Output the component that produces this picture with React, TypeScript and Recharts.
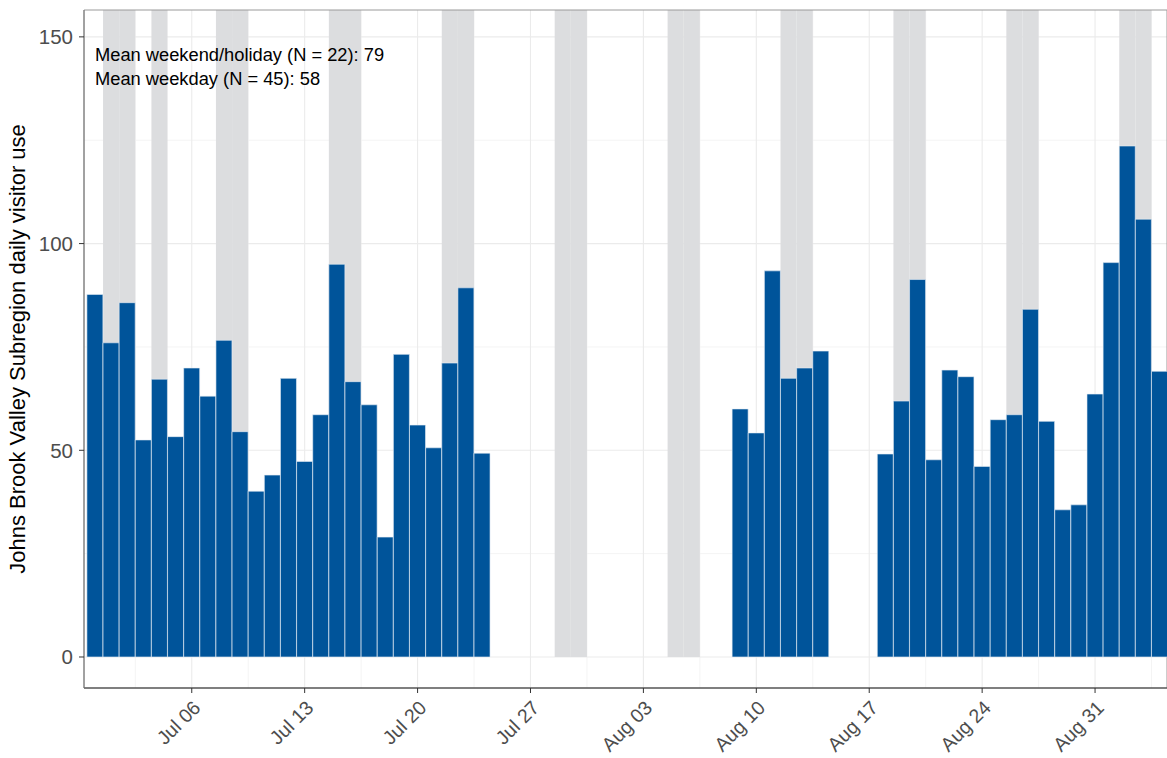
import React from 'react';
import {
  Bar,
  BarChart,
  CartesianGrid,
  Label,
  ReferenceArea,
  XAxis,
  YAxis,
} from 'recharts';

const YEAR = 2023;
const FIRST_DAY = '06-30';

// Days with a count (month-day) and the count for each one
const visitDates = [
  '06-30', '07-01', '07-02', '07-03', '07-04', '07-05', '07-06', '07-07',
  '07-08', '07-09', '07-10', '07-11', '07-12', '07-13', '07-14', '07-15',
  '07-16', '07-17', '07-18', '07-19', '07-20', '07-21', '07-22', '07-23',
  '07-24',
  '08-09', '08-10', '08-11', '08-12', '08-13', '08-14',
  '08-18', '08-19', '08-20', '08-21', '08-22', '08-23', '08-24', '08-25',
  '08-26', '08-27', '08-28', '08-29', '08-30', '08-31', '09-01', '09-02',
  '09-03', '09-04',
];

const visitorUse = [
  87.7, 76.0, 85.7, 52.5, 67.2, 53.3, 69.9, 63.1,
  76.6, 54.5, 40.1, 44.0, 67.4, 47.3, 58.6, 95.0,
  66.6, 61.0, 29.0, 73.2, 56.1, 50.6, 71.1, 89.3,
  49.3,
  60.0, 54.2, 93.4, 67.4, 69.9, 74.0,
  49.1, 61.9, 91.3, 47.7, 69.4, 67.8, 46.1, 57.4,
  58.6, 84.1, 57.0, 35.6, 36.8, 63.6, 95.4, 123.6,
  105.9, 69.1,
];

// Weekends and holidays, shaded behind the bars
const weekendHolidays = [
  '07-01', '07-02', '07-04', '07-08', '07-09', '07-15', '07-16', '07-22',
  '07-23', '07-29', '07-30', '08-05', '08-06', '08-12', '08-13', '08-19',
  '08-20', '08-26', '08-27', '09-02', '09-03',
];

const tickDates = ['07-06', '07-13', '07-20', '07-27', '08-03', '08-10', '08-17', '08-24', '08-31'];
const tickLabels = ['Jul 06', 'Jul 13', 'Jul 20', 'Jul 27', 'Aug 03', 'Aug 10', 'Aug 17', 'Aug 24', 'Aug 31'];

const yTicks = [0, 50, 100, 150];
const yMinorTicks = [25, 75, 125];

const meanLines = [
  'Mean weekend/holiday (N = 22): 79',
  'Mean weekday (N = 45): 58',
];

const FONT = '"Liberation Sans", Arial, sans-serif';
const BAR_BLUE = '#00549A';
const BAND_GREY = '#DCDDDF';

const X_MIN = -0.68;
const X_MAX = 66.46;
const Y_MIN = -7.5;
const Y_MAX = 156.5;

function dayIndex(md: string) {
  const [m, d] = md.split('-').map(Number);
  const [m0, d0] = FIRST_DAY.split('-').map(Number);
  return (Date.UTC(YEAR, m - 1, d) - Date.UTC(YEAR, m0 - 1, d0)) / 86400000;
}

const rows = visitDates.map((md, i) => ({ day: dayIndex(md), visitors: visitorUse[i] }));
const tickDays = tickDates.map(dayIndex);
const minorDays = [...tickDays.map((t) => t - 3.5), tickDays[tickDays.length - 1] + 3.5];
const bandDays = weekendHolidays.map(dayIndex);

function DateTick(props: any) {
  const { x, y, payload } = props;
  const idx = tickDays.indexOf(payload.value);
  const tx = x + 10;
  const ty = y + 14;
  return (
    <text
      x={tx}
      y={ty}
      transform={`rotate(-45 ${tx} ${ty})`}
      textAnchor="end"
      fill="#4D4D4D"
      fontSize={19.5}
      fontFamily={FONT}
    >
      {idx >= 0 ? tickLabels[idx] : ''}
    </text>
  );
}

function YTitle() {
  return (
    <text
      x={25}
      y={349}
      transform="rotate(-90 25 349)"
      textAnchor="middle"
      fill="#000"
      fontSize={22}
      fontFamily={FONT}
    >
      Johns Brook Valley Subregion daily visitor use
    </text>
  );
}

export default function App() {
  return (
    <div style={{ position: 'absolute', left: 0, top: 0, width: 1167, height: 758, background: '#fff' }}>
      <BarChart
        width={1167}
        height={758}
        data={rows}
        margin={{ top: 10, right: 0, bottom: 0, left: 0 }}
      >
        <CartesianGrid stroke="#F4F4F4" strokeWidth={1} horizontalValues={yMinorTicks} verticalValues={minorDays} />
        <CartesianGrid stroke="#EBEBEB" strokeWidth={1.1} horizontalValues={yTicks} verticalValues={tickDays} />
        {bandDays.map((d) => (
          <ReferenceArea
            key={d}
            x1={d - 0.5}
            x2={d + 0.5}
            y1={0}
            y2={Y_MAX}
            fill={BAND_GREY}
            fillOpacity={1}
            stroke="none"
            ifOverflow="hidden"
          />
        ))}
        <ReferenceArea
          x1={X_MIN}
          x2={X_MAX}
          y1={Y_MIN}
          y2={Y_MAX}
          fill="none"
          stroke="#9A9A9A"
          strokeWidth={1}
        />
        <XAxis
          dataKey="day"
          type="number"
          domain={[X_MIN, X_MAX]}
          allowDataOverflow
          ticks={tickDays}
          interval={0}
          height={70}
          tickSize={5}
          tickLine={{ stroke: '#333' }}
          axisLine={{ stroke: '#333', strokeWidth: 1.2 }}
          tick={<DateTick />}
        />
        <YAxis
          type="number"
          domain={[Y_MIN, Y_MAX]}
          allowDataOverflow
          ticks={yTicks}
          width={84}
          tickSize={5}
          tickMargin={6}
          tickLine={{ stroke: '#333' }}
          axisLine={{ stroke: '#777' }}
          tick={{ fill: '#4D4D4D', fontSize: 20.5, fontFamily: FONT }}
        >
          <Label content={<YTitle />} />
        </YAxis>
        <Bar
          dataKey="visitors"
          fill={BAR_BLUE}
          barSize={16}
          stroke="#E8EEF5"
          strokeWidth={0.6}
          isAnimationActive={false}
        />
      </BarChart>
      <div
        style={{
          position: 'absolute',
          left: 95,
          top: 43,
          fontFamily: FONT,
          fontSize: 18.3,
          lineHeight: '24px',
          color: '#000',
          whiteSpace: 'nowrap',
        }}
      >
        {meanLines.map((line) => (
          <div key={line}>{line}</div>
        ))}
      </div>
    </div>
  );
}
